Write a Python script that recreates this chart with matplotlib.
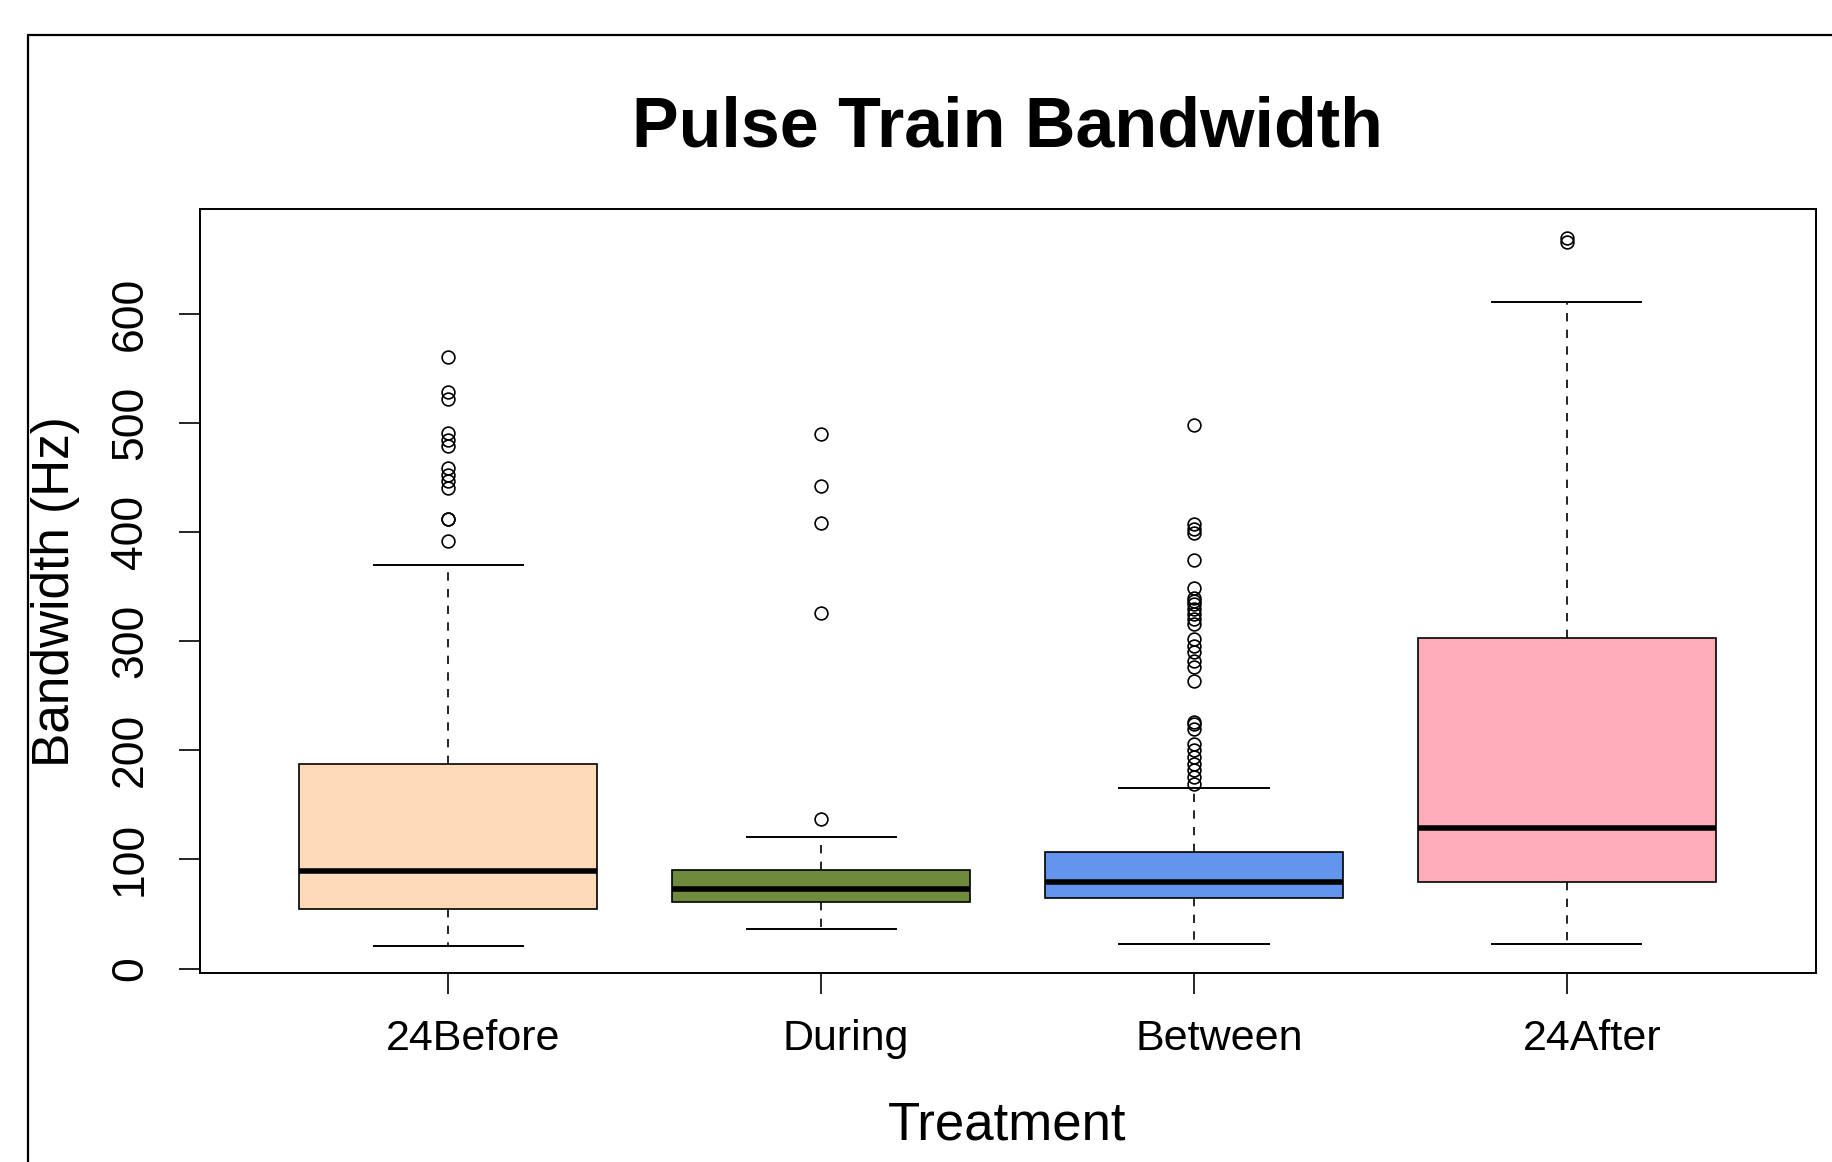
import matplotlib.pyplot as plt
from matplotlib.patches import Rectangle
from matplotlib.transforms import ScaledTranslation

plt.rcParams['font.family'] = ['Liberation Sans', 'DejaVu Sans']

# Treatment groups and five-number summaries (Hz)
groups = ['24Before', 'During', 'Between', '24After']
colors = ['#FFDAB9', '#6E8B3D', '#6495ED', '#FFAEB9']
whis_lo = [20.5, 36.5, 22.8, 22.8]
q1 = [54.8, 60.6, 64.8, 78.9]
med = [89.0, 72.7, 78.9, 129.1]
q3 = [187.0, 90.5, 106.5, 303.2]
whis_hi = [369.5, 120.9, 165.3, 610.8]

fliers = [
    [391.7, 411.5, 411.5, 440.4, 446.5, 452.6, 458.6, 478.5, 484.6, 490.6,
     522.1, 528.1, 560.7],
    [136.7, 325.8, 407.8, 441.9, 490.1],
    [169.3, 175.4, 181.5, 187.6, 193.6, 199.8, 205.9, 219.6, 224.2, 225.6,
     263.7, 275.9, 282.0, 289.6, 295.7, 301.8, 315.6, 320.1, 324.7, 329.3,
     333.8, 336.8, 339.9, 349.0, 374.0, 399.3, 402.4, 407.5, 498.3],
    [665.2, 669.5],
]

stats = []
for i in range(len(groups)):
    stats.append(dict(label=groups[i], whislo=whis_lo[i], q1=q1[i], med=med[i],
                      q3=q3[i], whishi=whis_hi[i], fliers=fliers[i]))

fig = plt.figure(figsize=(9.16, 5.81), dpi=200)
ax = fig.add_axes([0.109, 0.1624, 0.882, 0.6576])

bp = ax.bxp(stats, positions=[1, 2, 3, 4], widths=0.8, capwidths=0.4,
            patch_artist=True,
            boxprops=dict(edgecolor='black', linewidth=0.6),
            medianprops=dict(color='black', linewidth=2.0, solid_capstyle='butt'),
            whiskerprops=dict(color='black', linewidth=0.6, linestyle=(0, (5, 5))),
            capprops=dict(color='black', linewidth=0.7),
            flierprops=dict(marker='o', markerfacecolor='none', markeredgecolor='black',
                            markersize=4.6, markeredgewidth=0.6, linestyle='none'))
for patch, c in zip(bp['boxes'], colors):
    patch.set_facecolor(c)

ax.set_xlim(0.333, 4.667)
ax.set_ylim(-4.3, 695.7)
ax.set_yticks([0, 100, 200, 300, 400, 500, 600])
ax.set_xticks([1, 2, 3, 4])
ax.set_xticklabels(groups, fontsize=15.5)
ax.tick_params(axis='both', length=7.5, width=0.6, color='black')
ax.tick_params(axis='x', pad=9)
ax.tick_params(axis='y', pad=10)
# group names sit a little to the right of their ticks
for lab in ax.get_xticklabels():
    lab.set_transform(lab.get_transform() + ScaledTranslation(0.125, 0, fig.dpi_scale_trans))
for lab in ax.get_yticklabels():
    lab.set_rotation(90)
    lab.set_va('center')
    lab.set_fontsize(16)
for s in ax.spines.values():
    s.set_linewidth(0.7)

ax.set_xlabel('Treatment', fontsize=19, labelpad=15)
ax.set_ylabel('Bandwidth (Hz)', fontsize=18.5, labelpad=11)
ax.set_title('Pulse Train Bandwidth', fontsize=25.2, fontweight='bold', pad=22.5)

# outer frame around the whole device region
fig.patches.append(Rectangle((28 / 1832, -0.05), 1.2, 1 - 35 / 1162 + 0.05,
                             transform=fig.transFigure, fill=False,
                             edgecolor='black', linewidth=0.8))

fig.savefig('out.png', dpi=200)
